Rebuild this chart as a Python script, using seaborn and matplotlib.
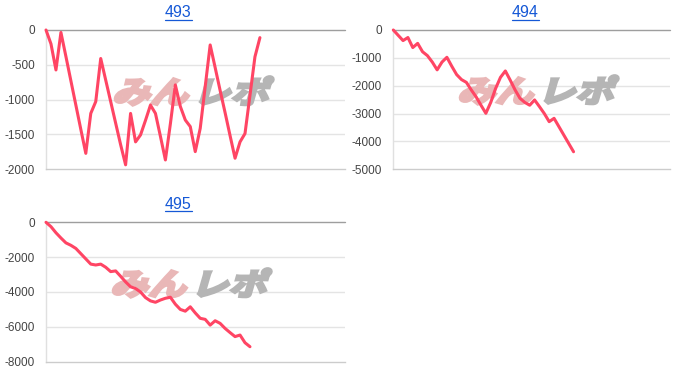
import numpy as np
import pandas as pd
import seaborn as sns
import matplotlib
matplotlib.use("Agg")
import matplotlib.pyplot as plt
from matplotlib.textpath import TextPath
from matplotlib.patches import PathPatch
from matplotlib.font_manager import FontProperties
from matplotlib.transforms import Affine2D
from matplotlib.lines import Line2D

titles = ["493", "494", "495"]
p493 = [0, -200, -575, -35, -380, -730, -1080, -1430, -1775, -1200, -1030, -410,
        -720, -1030, -1340, -1650, -1940, -1200, -1610, -1510, -1300, -1080, -1200,
        -1530, -1870, -1350, -790, -1100, -1295, -1390, -1750, -1415, -815, -215,
        -540, -870, -1190, -1520, -1845, -1610, -1490, -940, -385, -110]
p494 = [0, -190, -380, -270, -630, -480, -780, -920, -1150, -1430, -1150, -980,
        -1300, -1600, -1780, -1880, -2150, -2400, -2700, -2990, -2600, -2100, -1700,
        -1470, -1800, -2150, -2450, -2600, -2700, -2510, -2750, -3000, -3290, -3170,
        -3470, -3770, -4070, -4370]
p495 = [0, -250, -600, -900, -1180, -1320, -1500, -1800, -2100, -2400, -2450, -2400,
        -2580, -2830, -2790, -3100, -3420, -3700, -3800, -4000, -4320, -4510, -4590,
        -4460, -4360, -4300, -4700, -5000, -5100, -4850, -5200, -5510, -5570, -5900,
        -5650, -5800, -6090, -6330, -6560, -6470, -6910, -7140]
yticks = [[0, -500, -1000, -1500, -2000],
          [0, -1000, -2000, -3000, -4000, -5000],
          [0, -2000, -4000, -6000, -8000]]

sns.set_style("white")
plt.rcParams['font.family'] = ['Liberation Sans', 'DejaVu Sans']

W, H = 700, 386
fig = plt.figure(figsize=(7, 3.86), dpi=100)

# axes rectangles in pixel coords (left, top, right, bottom)
rects = [(46, 30, 344.5, 169), (393.3, 30, 670, 169.3), (46, 222.3, 344.5, 361.7)]
xmax = [60, 56.8, 60]
series = [p493, p494, p495]
title_pos = [(178, 17.3), (525.3, 17.3), (178, 209.3)]
wm_pos = [(112, 103), (457, 102), (110, 295)]

line_color = "#ff4564"
fp_wm = FontProperties(family='Noto Sans CJK JP', weight='bold')

for i in range(3):
    l, t, r, b = rects[i]
    ax = fig.add_axes([l / W, 1 - b / H, (r - l) / W, (b - t) / H])
    df = pd.DataFrame({"x": np.arange(len(series[i])), "y": series[i]})
    sns.lineplot(data=df, x="x", y="y", ax=ax, color=line_color, linewidth=2.2,
                 zorder=5, clip_on=False)
    ax.set_xlim(0, xmax[i])
    ax.set_ylim(yticks[i][-1], 0)
    ax.set_yticks(yticks[i])
    ax.set_yticklabels([str(v) for v in yticks[i]])
    ax.set_xticks([])
    ax.set_xlabel("")
    ax.set_ylabel("")
    ax.tick_params(axis='y', length=0, pad=8, labelsize=8.5, labelcolor="#444444")
    for v in yticks[i][1:-1]:
        ax.axhline(v, color="#e4e4e4", lw=1, zorder=1)
    for s in ["top", "right"]:
        ax.spines[s].set_visible(False)
    ax.spines["bottom"].set_color("#cccccc")
    ax.spines["bottom"].set_linewidth(1)
    ax.spines["left"].set_color("#e0e0e0")
    ax.spines["left"].set_linewidth(1)
    ax.axhline(0, color="#9e9e9e", lw=1, zorder=2, clip_on=False)

    # watermark
    wx, wy = wm_pos[i]
    base = Affine2D().scale(1.0, 0.8).skew_deg(16, 0)
    tp1 = TextPath((0, 0), "みん", size=38, prop=fp_wm)
    tp2 = TextPath((0, 0), "レポ", size=38, prop=fp_wm)
    w1 = tp1.get_extents().width
    tr1 = base + Affine2D().translate(wx, H - wy)
    tr2 = base + Affine2D().translate(wx + w1 + 8, H - wy)
    ax.add_patch(PathPatch(tp1, transform=tr1, facecolor="#e9b7b7", edgecolor="#e9b7b7",
                           linewidth=2.2, zorder=3, clip_on=False))
    ax.add_patch(PathPatch(tp2, transform=tr2, facecolor="#b5b5b5", edgecolor="#b5b5b5",
                           linewidth=2.2, zorder=3, clip_on=False))

    # title with underline
    tx, ty = title_pos[i]
    fig.text(tx / W, 1 - ty / H, titles[i], ha="center", va="baseline",
             fontsize=11.5, color="#1558d6")
    fig.add_artist(Line2D([(tx - 13.5) / W, (tx + 13.5) / W],
                          [1 - (ty + 2.2) / H, 1 - (ty + 2.2) / H],
                          color="#1558d6", lw=0.9, transform=fig.transFigure))

fig.savefig("out.png", dpi=100)
